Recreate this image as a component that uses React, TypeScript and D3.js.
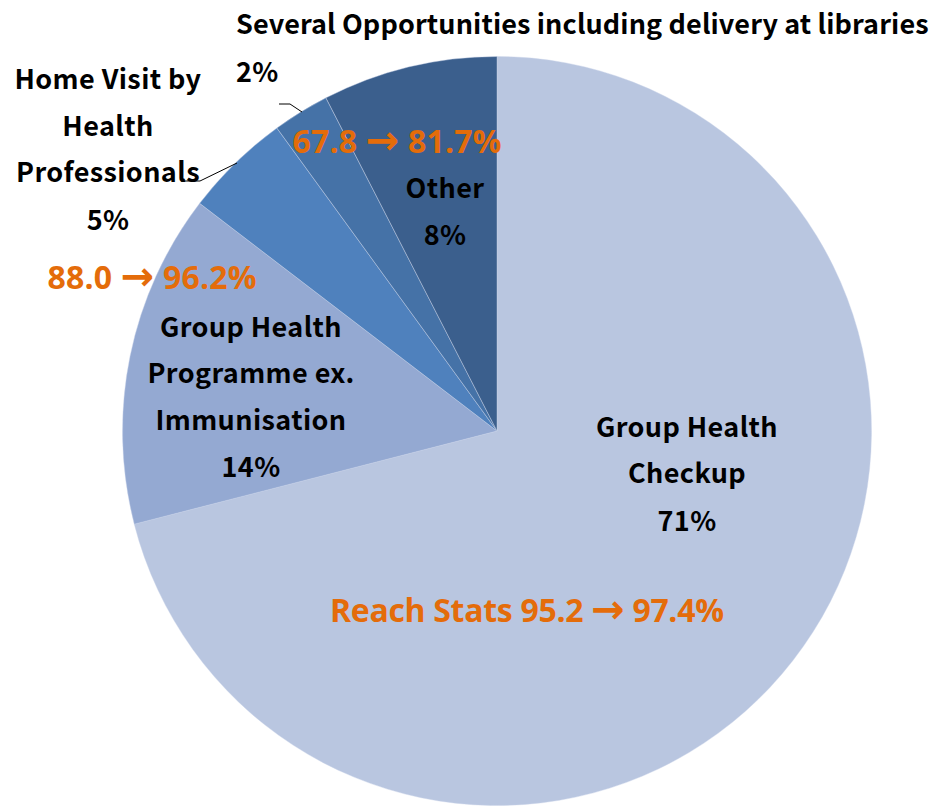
import React from "react";
import * as d3 from "d3";

const categories = [
  "Group Health Checkup",
  "Group Health Programme ex. Immunisation",
  "Home Visit by Health Professionals",
  "Several Opportunities including delivery at libraries",
  "Other",
];
const shares = [71.0, 14.4, 4.6, 2.45, 7.55];
const pctLabels = ["71%", "14%", "5%", "2%", "8%"];
const colors = ["#B9C6E0", "#94A9D2", "#4F81BD", "#4572A7", "#3B5F8D"];
const reachFrom = ["Reach Stats 95.2", "88.0", "67.8"];
const reachTo = ["97.4%", "96.2%", "81.7%"];

const W = 938;
const H = 806;
const cx = 497;
const cy = 431;
const R = 374.5;

const labelFont = "'Noto Sans CJK JP', 'Noto Sans', sans-serif";
const orangeFont = "'Open Sans', 'Noto Sans', sans-serif";
const arrowFont = "'DejaVu Sans', sans-serif";
const orange = "#E46C0A";

export default function App() {
  const pie = d3.pie<number>().sort(null).value((d) => d);
  const arcs = pie(shares);
  const arc = d3.arc<d3.PieArcDatum<number>>().innerRadius(0).outerRadius(R);

  const black = (x: number, y: number, t: string, k: string, anchor: string = "middle", len?: number) => (
    <text key={k} x={x} y={y} textAnchor={anchor} dominantBaseline="central"
      fontFamily={labelFont} fontWeight={700} fontSize={27} letterSpacing={0.4} fill="#000"
      {...(len ? { textLength: len, lengthAdjust: "spacing" } : {})}>{t}</text>
  );
  const orng = (x: number, y: number, i: number, len: number, k: string) => (
    <text key={k} x={x} y={y} textAnchor="middle" dominantBaseline="central"
      fontFamily={orangeFont} fontWeight={700} fontSize={32} fill={orange}
      textLength={len} lengthAdjust="spacing">
      {reachFrom[i] + " "}
      <tspan fontFamily={arrowFont} fontWeight={700} fontSize={40}>→</tspan>
      {" " + reachTo[i]}
    </text>
  );

  return (
    <svg width={W} height={H} style={{ position: "absolute", left: 0, top: 0 }}>
      <rect width={W} height={H} fill="#fff" />
      <g transform={`translate(${cx},${cy})`}>
        {arcs.map((a, i) => (
          <path key={categories[i]} d={arc(a) || ""} fill={colors[i]} stroke="#C9D4EA" strokeWidth={0.6} strokeOpacity={0.7} />
        ))}
      </g>
      {/* leader lines */}
      <polyline points="279,104 290,104 302,112" fill="none" stroke="#000" strokeWidth={1} />
      <polyline points="181,181 200,181 237,163" fill="none" stroke="#000" strokeWidth={1} />

      {/* Checkup */}
      {black(687, 425, "Group Health", "c1")}
      {black(687, 471, "Checkup", "c2")}
      {black(687, 519, pctLabels[0], "c3")}
      {orng(527, 609, 0, 394, "c4")}

      {/* Programme */}
      {black(251, 325, "Group Health", "p1")}
      {black(251, 371, "Programme ex.", "p2")}
      {black(251, 418, "Immunisation", "p3")}
      {black(251, 465, pctLabels[1], "p4")}
      {orng(152, 276, 1, 209, "p5")}

      {/* Home visit */}
      {black(108, 77, "Home Visit by", "h1")}
      {black(108, 124, "Health", "h2")}
      {black(108, 170, "Professionals", "h3")}
      {black(108, 218, pctLabels[2], "h4")}

      {/* Several */}
      {black(236, 22, categories[3], "s1", "start", 693)}
      {black(236, 70, pctLabels[3], "s2", "start")}

      {/* Other */}
      {orng(397, 140, 2, 209, "o0")}
      {black(445, 186, "Other", "o1")}
      {black(445, 233, pctLabels[4], "o2")}
    </svg>
  );
}
